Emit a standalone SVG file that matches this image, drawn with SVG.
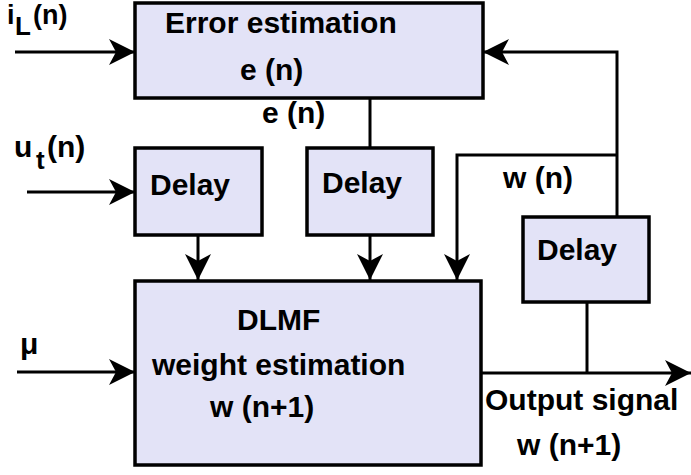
<svg xmlns="http://www.w3.org/2000/svg" width="691" height="475" viewBox="0 0 691 475">
<style>
  .box { fill: #e3e3f7; stroke: #000; stroke-width: 3.5; }
  .t { font-family: "Liberation Sans", Arial, sans-serif; font-weight: bold; font-size: 30px; fill: #000; }
  .m { font-family: "Liberation Sans", Arial, sans-serif; font-weight: bold; font-size: 27px; fill: #000; }
  .s { font-family: "Liberation Sans", Arial, sans-serif; font-weight: bold; font-size: 26px; fill: #000; }
  .ln { fill: none; stroke: #000; stroke-width: 3; }
</style>
<defs>
  <marker id="ah" viewBox="0 0 26 26" refX="26" refY="13" markerWidth="26" markerHeight="26" markerUnits="userSpaceOnUse" orient="auto">
    <path d="M0,0 L26,13 L0,26 L7,13 Z" fill="#000"/>
  </marker>
</defs>
<rect width="691" height="475" fill="#fff"/>

<g id="error-estimation">
  <rect class="box" x="135" y="3" width="348" height="95"/>
  <text class="t" x="165" y="33">Error estimation</text>
  <text class="t" x="240" y="80">e (n)</text>
</g>
<g id="delay1">
  <rect class="box" x="135" y="148" width="127" height="87"/>
  <text class="t" x="150" y="195">Delay</text>
</g>
<g id="delay2">
  <rect class="box" x="307" y="148" width="126" height="87"/>
  <text class="t" x="322" y="193">Delay</text>
</g>
<g id="delay3">
  <rect class="box" x="523" y="217" width="126" height="85"/>
  <text class="t" x="537" y="260">Delay</text>
</g>
<g id="dlmf">
  <rect class="box" x="135" y="281" width="346" height="184"/>
  <text class="t" x="237" y="330">DLMF</text>
  <text class="t" x="152" y="375">weight estimation</text>
  <text class="t" x="210" y="417">w (n+1)</text>
</g>

<g id="connectors">
  <line class="ln" x1="15" y1="52" x2="135" y2="52" marker-end="url(#ah)"/>
  <line class="ln" x1="27" y1="192" x2="135" y2="192" marker-end="url(#ah)"/>
  <line class="ln" x1="17" y1="372" x2="135" y2="372" marker-end="url(#ah)"/>
  <line class="ln" x1="370" y1="98" x2="370" y2="148"/>
  <line class="ln" x1="198" y1="235" x2="198" y2="280" marker-end="url(#ah)"/>
  <line class="ln" x1="370" y1="235" x2="370" y2="280" marker-end="url(#ah)"/>
  <polyline class="ln" points="617,155 457,155 457,280" marker-end="url(#ah)"/>
  <polyline class="ln" points="617,217 617,52 483,52" marker-end="url(#ah)"/>
  <line class="ln" x1="587" y1="302" x2="587" y2="373"/>
  <line class="ln" x1="481" y1="373" x2="691" y2="373" marker-end="url(#ah)"/>
</g>

<g id="labels">
  <text class="m" x="7" y="24">i</text>
  <text class="s" x="15" y="35">L</text>
  <text class="m" x="33" y="24">(n)</text>
  <text class="t" x="14" y="157">u</text>
  <text class="s" x="36" y="169">t</text>
  <text class="t" x="47" y="157">(n)</text>
  <text class="t" x="20" y="354">μ</text>
  <text class="t" x="262" y="123">e (n)</text>
  <text class="t" x="503" y="188">w (n)</text>
  <text class="t" x="485" y="410">Output signal</text>
  <text class="t" x="517" y="455">w (n+1)</text>
</g>
</svg>
